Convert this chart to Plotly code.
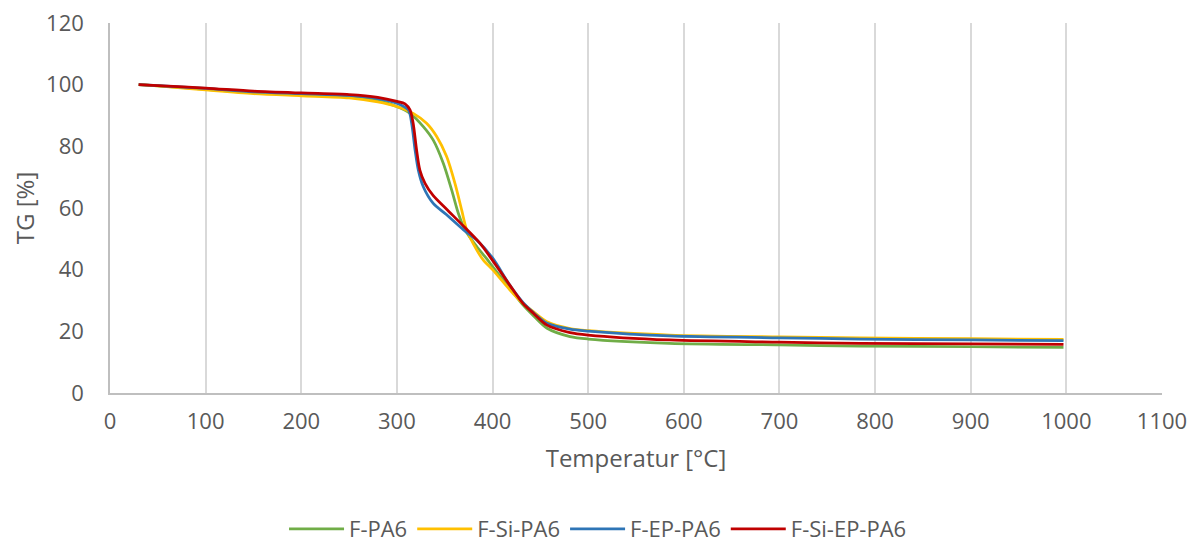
import plotly.graph_objects as go

# Temperature [°C] and TG [%]
t_fpa6 = [30, 50, 100, 150, 200, 250, 280, 299, 313.7, 327.6, 338, 348.5, 357.3, 364.2, 371.2, 383.4, 394, 400, 418, 432, 443, 457, 481, 500, 585, 700, 784, 900, 997]
tg_fpa6 = [100, 99.6, 98.5, 97.4, 96.8, 96.0, 94.8, 93.0, 90.7, 86.4, 82.0, 74.5, 65.8, 58.3, 52.9, 47.5, 43.5, 41.0, 34.0, 28.5, 25.0, 21.0, 18.3, 17.5, 16.1, 15.6, 15.2, 15.0, 14.8]

t_fsipa6 = [30, 50, 100, 150, 200, 250, 280, 299, 317, 331, 341.6, 352, 360.7, 367.7, 373, 383.4, 390.4, 400, 418, 432, 443, 457, 481, 500, 585, 700, 784, 900, 997]
tg_fsipa6 = [100, 99.6, 98.3, 97.1, 96.4, 95.7, 94.4, 93.0, 90.7, 87.5, 83.2, 76.7, 68.0, 59.4, 52.9, 46.4, 43.1, 40.0, 33.5, 29.0, 26.3, 23.1, 20.9, 20.2, 18.8, 18.2, 17.9, 17.6, 17.4]

t_fep = [30, 50, 100, 150, 200, 250, 280, 300, 312, 315.4, 319, 322.4, 327.6, 338, 352, 369.4, 383.4, 400, 418, 432, 443, 457, 481, 500, 585, 700, 784, 900, 997]
tg_fep = [100, 99.7, 98.8, 97.7, 97.1, 96.5, 95.5, 94.0, 91.8, 87.5, 78.8, 72.3, 66.9, 61.5, 57.8, 53.0, 49.6, 43.8, 35.0, 29.3, 26.0, 22.6, 20.7, 20.1, 18.5, 17.9, 17.5, 17.2, 17.0]

t_fsiep = [30, 50, 100, 150, 200, 250, 280, 300, 308.5, 313.7, 317, 320.6, 324, 329.4, 338, 352, 369.4, 387, 400, 418, 432, 443, 457, 481, 500, 585, 700, 784, 900, 997]
tg_fsiep = [100, 99.7, 98.9, 97.9, 97.3, 96.8, 95.9, 94.6, 93.8, 91.8, 87.5, 78.8, 72.3, 68.0, 64.0, 59.6, 54.2, 48.5, 43.0, 35.0, 29.0, 25.8, 22.0, 19.6, 18.8, 17.2, 16.5, 16.1, 15.9, 15.8]

series = [
    ("F-PA6", t_fpa6, tg_fpa6, "#70AD47"),
    ("F-Si-PA6", t_fsipa6, tg_fsipa6, "#FFC000"),
    ("F-EP-PA6", t_fep, tg_fep, "#2E75B6"),
    ("F-Si-EP-PA6", t_fsiep, tg_fsiep, "#C00000"),
]

x_ticks = list(range(0, 1101, 100))
y_ticks = list(range(0, 121, 20))

FONT = "Open Sans, Noto Sans, sans-serif"
TXT = "#595959"

fig = go.Figure()
for name, x, y, c in series:
    fig.add_trace(go.Scatter(x=x, y=y, name=name, mode="lines",
                             line=dict(color=c, width=2.75, shape="spline", smoothing=0.8)))

# the page body has an 8px margin, so the figure is 1192x535
fig.update_layout(
    width=1192, height=535,
    margin=dict(l=102, r=38, t=15, b=150, autoexpand=False),
    plot_bgcolor="white", paper_bgcolor="white",
    font=dict(family=FONT, size=22, color=TXT),
    showlegend=True,
    legend=dict(orientation="h", x=0.495, xanchor="center", xref="container",
                y=0.026, yanchor="middle", yref="container",
                font=dict(size=22, color=TXT), itemwidth=55, traceorder="normal"),
    xaxis=dict(range=[0, 1100], tickvals=x_ticks, showgrid=True, gridcolor="#D9D9D9", gridwidth=1.5,
               showline=True, linecolor="#BFBFBF", linewidth=1.5, zeroline=False, ticks="",
               ticklabelstandoff=8, automargin=False, ticklabeloverflow="allow",
               tickfont=dict(size=22, color=TXT),
               title=dict(text="Temperatur [°C]", font=dict(size=24, color=TXT), standoff=16)),
    yaxis=dict(range=[0, 120], tickvals=y_ticks, showgrid=False,
               showline=True, linecolor="#BFBFBF", linewidth=1.5, zeroline=False, ticks="",
               ticklabelstandoff=20, automargin=False, ticklabeloverflow="allow",
               tickfont=dict(size=22, color=TXT),
               title=dict(text="TG [%]", font=dict(size=24, color=TXT), standoff=9)),
)

fig.write_html("out.html")
